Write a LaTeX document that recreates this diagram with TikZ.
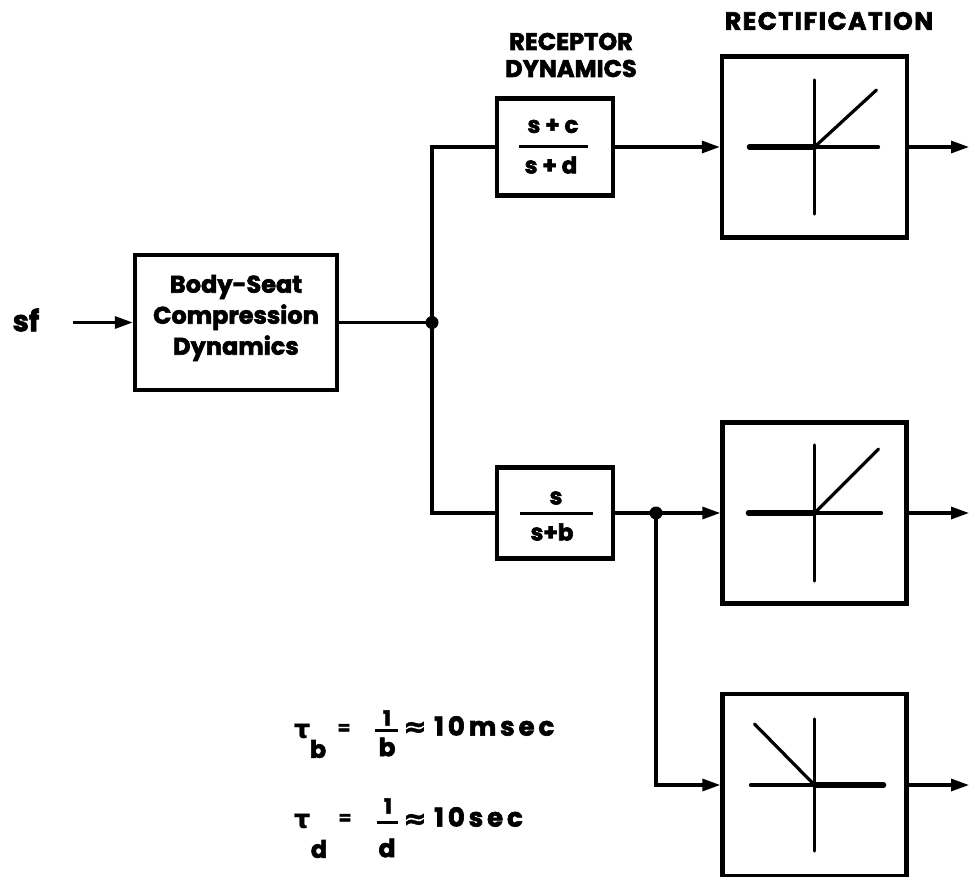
\documentclass[tikz,border=0pt]{standalone}
\usepackage{fontspec}
\setmainfont{Poppins}[BoldFeatures={FakeBold=2.5}]
\newfontfamily\symfont{DejaVu Sans}[BoldFeatures={FakeBold=1.5}]
\newfontfamily\widefont{Poppins}[LetterSpace=15,BoldFeatures={FakeBold=2.5}]
\newfontfamily\capsfont{Poppins}[LetterSpace=6,BoldFeatures={FakeBold=2.5}]
\usetikzlibrary{arrows.meta}
\begin{document}
\begin{tikzpicture}[x=1pt,y=-1pt,
  blk/.style={draw, line width=4.4pt, inner sep=0pt},
  conn/.style={line width=3.2pt},
  arr/.style={conn, -{Triangle[length=18pt,width=12pt]}},
  axisline/.style={line width=3.2pt, line cap=round},
  heavyaxis/.style={line width=5.6pt, line cap=round},
  jdot/.style={circle, fill, inner sep=0pt, minimum size=13pt},
  txt/.style 2 args={inner sep=0pt, font=\bfseries\fontsize{#1}{#2}\selectfont},
  fracbar/.style={line width=3pt},
]
\fill[white] (0,0) rectangle (969,877);
\useasboundingbox (0,0) rectangle (969,877);

% input
\node[txt={29}{30}] (sf) at (26,320) {sf};
\coordinate (sfs) at (73,322.5);
\node[blk, minimum width=202pt, minimum height=135pt] (body) at (236,322.5) {};
\node[txt={24}{31}, align=center] (bodytxt) at (236,318) {Body-Seat\\Compression\\Dynamics};
\draw[arr] (sfs) -- (body.west);

% junction 1
\node[jdot] (j1) at (432,322.5) {};
\draw[conn] (body.east) -- (j1.center);

% receptor dynamics boxes
\node[txt={24}{27}, align=center] (reclbl) at (571,55) {RECEPTOR\\DYNAMICS};
\node[blk, minimum width=116pt, minimum height=97pt] (b1) at (555,147) {};
\node[txt={23}{24}] (b1num) at (553,126) {s + c};
\node[txt={23}{24}] (b1den) at (551,165) {s + d};
\draw[fracbar] ([shift={(-36,0)}]b1.center) -- ([shift={(33,0)}]b1.center);

\node[blk, minimum width=116pt, minimum height=91pt] (b2) at (555,513) {};
\node[txt={23}{24}] (b2num) at (556,498) {s};
\node[txt={23}{24}] (b2den) at (552,532) {s+b};
\draw[fracbar] ([shift={(-35,0)}]b2.center) -- ([shift={(38,0)}]b2.center);

\draw[conn] (j1.center) |- (b1.west);
\draw[conn] (j1.center) |- (b2.west);

% rectification
\node[inner sep=0pt, font=\capsfont\bfseries\fontsize{25}{26}\selectfont] (rectlbl) at (829,21) {RECTIFICATION};
\node[blk, minimum width=185pt, minimum height=181pt] (r1) at (814.5,147) {};
\node[blk, minimum width=184pt, minimum height=181pt] (r2) at (814.5,513) {};
\node[blk, minimum width=184pt, minimum height=182pt] (r3) at (814.5,785) {};

% rectifier characteristics
\draw[heavyaxis] ([shift={(-65,0)}]r1.center) -- (r1.center);
\draw[axisline] (r1.center) -- ([shift={(64,0)}]r1.center);
\draw[axisline] ([shift={(0,-67)}]r1.center) -- ([shift={(0,67)}]r1.center);
\draw[axisline] (r1.center) -- ([shift={(62,-57)}]r1.center);

\draw[heavyaxis] ([shift={(-66,0)}]r2.center) -- (r2.center);
\draw[axisline] (r2.center) -- ([shift={(67,0)}]r2.center);
\draw[axisline] ([shift={(0,-68)}]r2.center) -- ([shift={(0,68)}]r2.center);
\draw[axisline] (r2.center) -- ([shift={(64,-64)}]r2.center);

\draw[axisline] ([shift={(-64,0)}]r3.center) -- (r3.center);
\draw[heavyaxis] (r3.center) -- ([shift={(69,0)}]r3.center);
\draw[axisline] ([shift={(0,-66)}]r3.center) -- ([shift={(0,66)}]r3.center);
\draw[axisline] (r3.center) -- ([shift={(-60,-61)}]r3.center);

% connections to rectifiers
\draw[arr] (b1.east) -- (r1.west);
\draw[arr] (b2.east) -- (r2.west);
\node[jdot] (j2) at (656,513) {};
\draw[arr] (j2.center) |- (r3.west);

% outputs
\coordinate (o1) at (969,147);
\coordinate (o2) at (969,513);
\coordinate (o3) at (969,785);
\draw[arr] (r1.east) -- (o1);
\draw[arr] (r2.east) -- (o2);
\draw[arr] (r3.east) -- (o3);

% time constants
\node[inner sep=0pt, font=\symfont\bfseries\fontsize{25}{25}\selectfont] (taub) at (302,731) {τ};
\node[txt={24}{24}] (taubsub) at (318,749) {b};
\node[txt={18}{18}] (taubeq) at (344,729) {=};
\node[txt={21}{21}] (taubnum) at (387,718) {1};
\draw[fracbar] (375,730) -- (398,730);
\node[txt={25}{25}] (taubden) at (387,747) {b};
\node[inner sep=0pt, font=\symfont\bfseries\fontsize{28}{28}\selectfont] (taubap) at (415,729) {≈};
\node[inner sep=0pt, anchor=west, font=\widefont\bfseries\fontsize{26}{26}\selectfont] (taubval) at (434,726) {10msec};

\node[inner sep=0pt, font=\symfont\bfseries\fontsize{25}{25}\selectfont] (taud) at (302,821) {τ};
\node[txt={24}{24}] (taudsub) at (319,849) {d};
\node[txt={18}{18}] (taudeq) at (345,819) {=};
\node[txt={21}{21}] (taudnum) at (388,806) {1};
\draw[fracbar] (377,822) -- (398,822);
\node[txt={25}{25}] (tauden) at (387,848) {d};
\node[inner sep=0pt, font=\symfont\bfseries\fontsize{28}{28}\selectfont] (taudap) at (415,821) {≈};
\node[inner sep=0pt, anchor=west, font=\widefont\bfseries\fontsize{26}{26}\selectfont] (taudval) at (434,817) {10sec};
\end{tikzpicture}
\end{document}
